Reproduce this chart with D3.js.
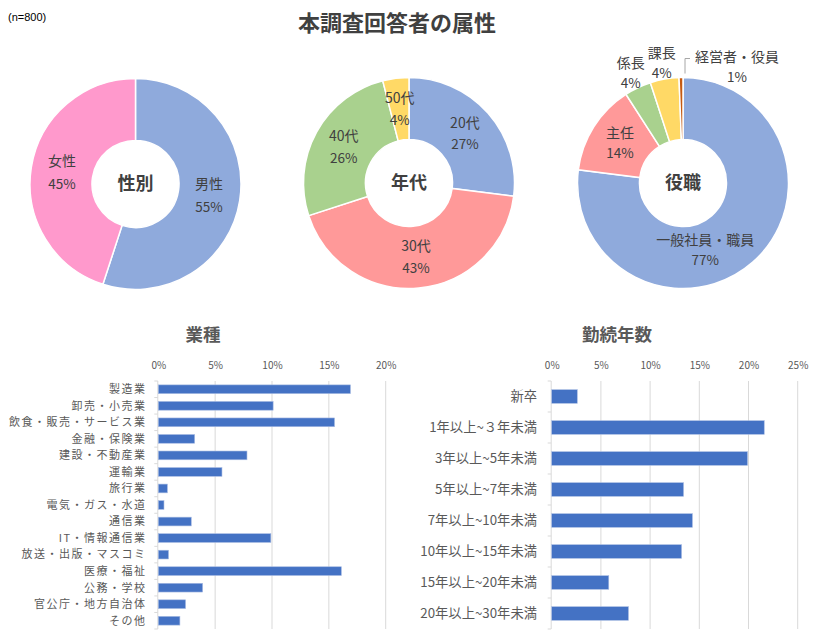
<!DOCTYPE html>
<html><head><meta charset="utf-8">
<script src="https://cdn.jsdelivr.net/npm/d3@7"></script>
<style>
html,body{margin:0;padding:0;background:#fff;}
text{font-family:"Noto Sans CJK JP","Noto Sans",sans-serif;}
</style></head>
<body><svg id="c" width="819" height="640"></svg>
<script>
// ---- data ----
const genderLabels = ["男性","女性"];
const genderValues = [55,45];
const ageLabels = ["20代","30代","40代","50代"];
const ageValues = [27,43,26,4];
const roleLabels = ["一般社員・職員","主任","係長","課長","経営者・役員"];
const roleValues = [77.0,13.9,4.1,4.4,0.6];

const industryLabels = ["製造業","卸売・小売業","飲食・販売・サービス業","金融・保険業","建設・不動産業","運輸業","旅行業","電気・ガス・水道","通信業","IT・情報通信業","放送・出版・マスコミ","医療・福祉","公務・学校","官公庁・地方自治体","その他"];
const industryValues = [16.9,10.1,15.5,3.2,7.8,5.6,0.8,0.5,2.9,9.9,0.9,16.1,3.9,2.4,1.9];
const industryTicks = [0,5,10,15,20];

const tenureLabels = ["新卒","1年以上~３年未満","3年以上~5年未満","5年以上~7年未満","7年以上~10年未満","10年以上~15年未満","15年以上~20年未満","20年以上~30年未満"];
const tenureValues = [2.6,21.6,19.9,13.4,14.3,13.2,5.8,7.8];
const tenureTicks = [0,5,10,15,20,25];

// ---- drawing ----
const svg = d3.select("#c");
svg.append("rect").attr("width",819).attr("height",640).attr("fill","#fff");

svg.append("text").attr("x",8).attr("y",21).attr("font-size",11).attr("fill","#000")
  .style("font-family","'Liberation Sans',Arial,sans-serif").text("(n=800)");
svg.append("text").attr("x",397).attr("y",31).attr("text-anchor","middle")
  .attr("font-size",22).attr("font-weight","bold").attr("fill","#404040").text("本調査回答者の属性");

const pieColors1 = ["#8FAADC","#FF99CC"];
const pieColors2 = ["#8FAADC","#FF9999","#A9D18E","#FFD966"];
const pieColors3 = ["#8FAADC","#FF9999","#A9D18E","#FFD966","#C55A11"];

function donut(cx, cy, labels, values, colors, center, opts){
  const ro = 105.5, ri = 43.5;
  const g = svg.append("g").attr("transform",`translate(${cx},${cy})`);
  const pie = d3.pie().sort(null).value(d=>d)(values);
  const arc = d3.arc().innerRadius(ri).outerRadius(ro);
  g.selectAll("path").data(pie).join("path")
    .attr("d",arc).attr("fill",(d,i)=>colors[i])
    .attr("stroke","#fff").attr("stroke-width",1.5);
  g.append("text").attr("x",0).attr("y",0).attr("dy","0.35em").attr("text-anchor","middle")
    .attr("font-size",18).attr("font-weight","bold").attr("fill","#404040").text(center);
  const fmt = v => Math.round(v) + "%";
  const gap = opts.gap;
  pie.forEach((d,i)=>{
    let mid = (d.startAngle+d.endAngle)/2;
    let r = (ri+ro)/2;
    let outside = opts.outside && values[i] < 5;
    if (outside) r = 122;
    let x = r*Math.sin(mid), y = -r*Math.cos(mid);
    if (opts.adjust && opts.adjust[i]) { x += opts.adjust[i][0]; y += opts.adjust[i][1]; }
    if (outside && values[i] < 2) {
      // leader line and label pushed to the right
      const x0 = ro*Math.sin(mid)+4, y0 = -ro*Math.cos(mid)-4;
      g.append("polyline").attr("points",`${x0},${y0} ${x0},${y0-15} ${x0+5},${y0-15}`)
        .attr("fill","none").attr("stroke","#A6A6A6").attr("stroke-width",1);
      x = x0 + 52; y = y0 - 6;
    }
    const t = g.append("text").attr("text-anchor","middle").attr("font-size",14).attr("fill","#404040");
    t.append("tspan").attr("x",x).attr("y",y - gap/2).attr("dy","0.35em").text(labels[i]);
    t.append("tspan").attr("x",x).attr("y",y + gap/2).attr("dy","0.35em").attr("font-size",13.5).text(fmt(values[i]));
  });
}

donut(135.5,184,genderLabels,genderValues,pieColors1,"性別",{gap:23});
donut(409,183,ageLabels,ageValues,pieColors2,"年代",{gap:22});
donut(683,183,roleLabels,roleValues,pieColors3,"役職",{gap:20,outside:true,adjust:{0:[-27,11]}});

function barChart(opts){
  const {labels, values, ticks, x0, x1, dmax, titleX, labelSize} = opts;
  const top = 381, bottom = 629;
  const x = d3.scaleLinear().domain([0,dmax]).range([x0,x1]);
  const y = d3.scaleBand().domain(labels).range([top,bottom]).paddingInner(opts.pad).paddingOuter(opts.pad/2);
  const g = svg.append("g");
  svg.append("text").attr("x",titleX).attr("y",335).attr("dy","0.35em").attr("text-anchor","middle")
    .attr("font-size",17.5).attr("font-weight","bold").attr("fill","#595959").text(opts.title);
  // gridlines
  g.selectAll("line.grid").data(ticks.filter(t=>t>0)).join("line")
    .attr("x1",d=>x(d)).attr("x2",d=>x(d)).attr("y1",top).attr("y2",bottom)
    .attr("stroke","#D9D9D9").attr("stroke-width",1);
  // top axis labels
  const ax = d3.axisTop(x).tickValues(ticks).tickFormat(d=>d+"%").tickSize(0).tickPadding(0);
  const axg = g.append("g").attr("transform",`translate(0,369)`).call(ax);
  axg.select(".domain").remove();
  axg.selectAll("text").attr("font-size",10).attr("fill","#595959")
    .style("font-family","'Noto Sans CJK JP','Noto Sans',sans-serif");
  // category axis line + ticks
  g.append("line").attr("x1",x0-0.5).attr("x2",x0-0.5).attr("y1",top).attr("y2",bottom)
    .attr("stroke","#D9D9D9");
  const bounds = d3.range(labels.length+1).map(i=>top + i*(bottom-top)/labels.length);
  g.selectAll("line.tk").data(bounds).join("line")
    .attr("x1",x0-4).attr("x2",x0-0.5).attr("y1",d=>d).attr("y2",d=>d).attr("stroke","#D9D9D9");
  // bars
  g.selectAll("rect.bar").data(values).join("rect")
    .attr("x",x(0)).attr("y",(d,i)=>y(labels[i]))
    .attr("width",d=>x(d)-x(0)).attr("height",y.bandwidth())
    .attr("fill","#4472C4").attr("stroke","#A9BCE3").attr("stroke-width",0.6);
  // category labels
  g.selectAll("text.cat").data(labels).join("text")
    .attr("x",opts.labelX).attr("y",d=>y(d)+y.bandwidth()/2).attr("dy","0.35em")
    .attr("text-anchor","end").attr("font-size",labelSize).attr("letter-spacing",opts.spacing || 0)
    .attr("fill","#595959").text(d=>d);
}

barChart({labels:industryLabels, values:industryValues, ticks:industryTicks, x0:158.3, x1:385.7, dmax:20,
  titleX:203, title:"業種", pad:0.47, labelX:146.5, labelSize:11, spacing:1.5});
barChart({labels:tenureLabels, values:tenureValues, ticks:tenureTicks, x0:551.7, x1:797.7, dmax:25,
  titleX:617, title:"勤続年数", pad:0.56, labelX:537, labelSize:13.3});
</script></body></html>
